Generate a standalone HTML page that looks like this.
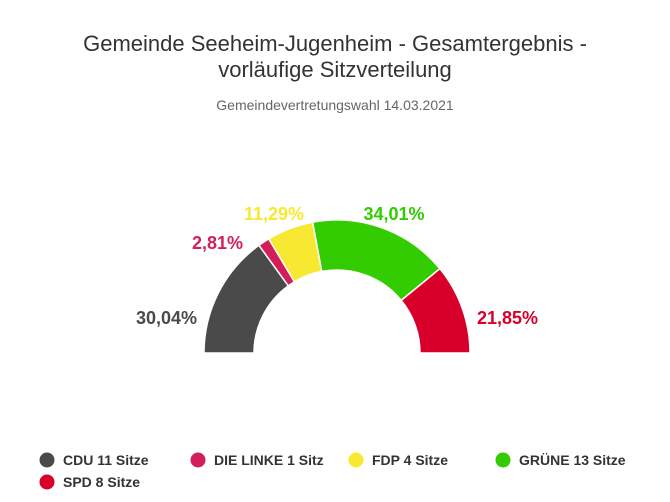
<!DOCTYPE html>
<html><head><meta charset="utf-8"><style>
html,body{margin:0;padding:0;background:#fff;}
svg{display:block;font-family:"Liberation Sans","DejaVu Sans",sans-serif;}
</style></head><body>
<svg width="670" height="502" viewBox="0 0 670 502" xmlns="http://www.w3.org/2000/svg">
<rect width="670" height="502" fill="#fff"/>
<text x="335" y="51" text-anchor="middle" font-size="22" fill="#333">Gemeinde Seeheim-Jugenheim - Gesamtergebnis -</text>
<text x="335" y="77" text-anchor="middle" font-size="22" fill="#333">vorläufige Sitzverteilung</text>
<text x="335" y="110" text-anchor="middle" font-size="14" fill="#666">Gemeindevertretungswahl 14.03.2021</text>
<g stroke="#fff" stroke-width="1.5" stroke-linejoin="round">
<path d="M204,353 A133,133 0 0 1 258.94,245.32 L288.29,285.80 A83,83 0 0 0 254,353 Z" fill="#4a4a4a"/>
<path d="M258.94,245.32 A133,133 0 0 1 268.77,238.83 L294.42,281.75 A83,83 0 0 0 288.29,285.80 Z" fill="#d21f5a"/>
<path d="M268.77,238.83 A133,133 0 0 1 312.65,222.25 L321.80,271.40 A83,83 0 0 0 294.42,281.75 Z" fill="#f7e931"/>
<path d="M312.65,222.25 A133,133 0 0 1 439.88,268.70 L401.20,300.39 A83,83 0 0 0 321.80,271.40 Z" fill="#33cc00"/>
<path d="M439.88,268.70 A133,133 0 0 1 470,353 L420,353 A83,83 0 0 0 401.20,300.39 Z" fill="#d8002a"/>
</g>
<g font-size="18" font-weight="bold">
<text x="197" y="324" text-anchor="end" fill="#4a4a4a">30,04%</text>
<text x="243" y="249" text-anchor="end" fill="#d21f5a">2,81%</text>
<text x="274" y="220" text-anchor="middle" fill="#f7e931">11,29%</text>
<text x="394" y="220" text-anchor="middle" fill="#33cc00">34,01%</text>
<text x="477" y="324" text-anchor="start" fill="#d8002a">21,85%</text>
</g>
<g font-size="14" font-weight="bold" fill="#333">
<circle cx="47" cy="460" r="7.5" fill="#4a4a4a"/><text x="63" y="465">CDU 11 Sitze</text>
<circle cx="198" cy="460" r="7.5" fill="#d21f5a"/><text x="214" y="465">DIE LINKE 1 Sitz</text>
<circle cx="356" cy="460" r="7.5" fill="#f7e931"/><text x="372" y="465">FDP 4 Sitze</text>
<circle cx="503" cy="460" r="7.5" fill="#33cc00"/><text x="519" y="465">GRÜNE 13 Sitze</text>
<circle cx="47" cy="482" r="7.5" fill="#d8002a"/><text x="63" y="487">SPD 8 Sitze</text>
</g>
</svg>
</body></html>
